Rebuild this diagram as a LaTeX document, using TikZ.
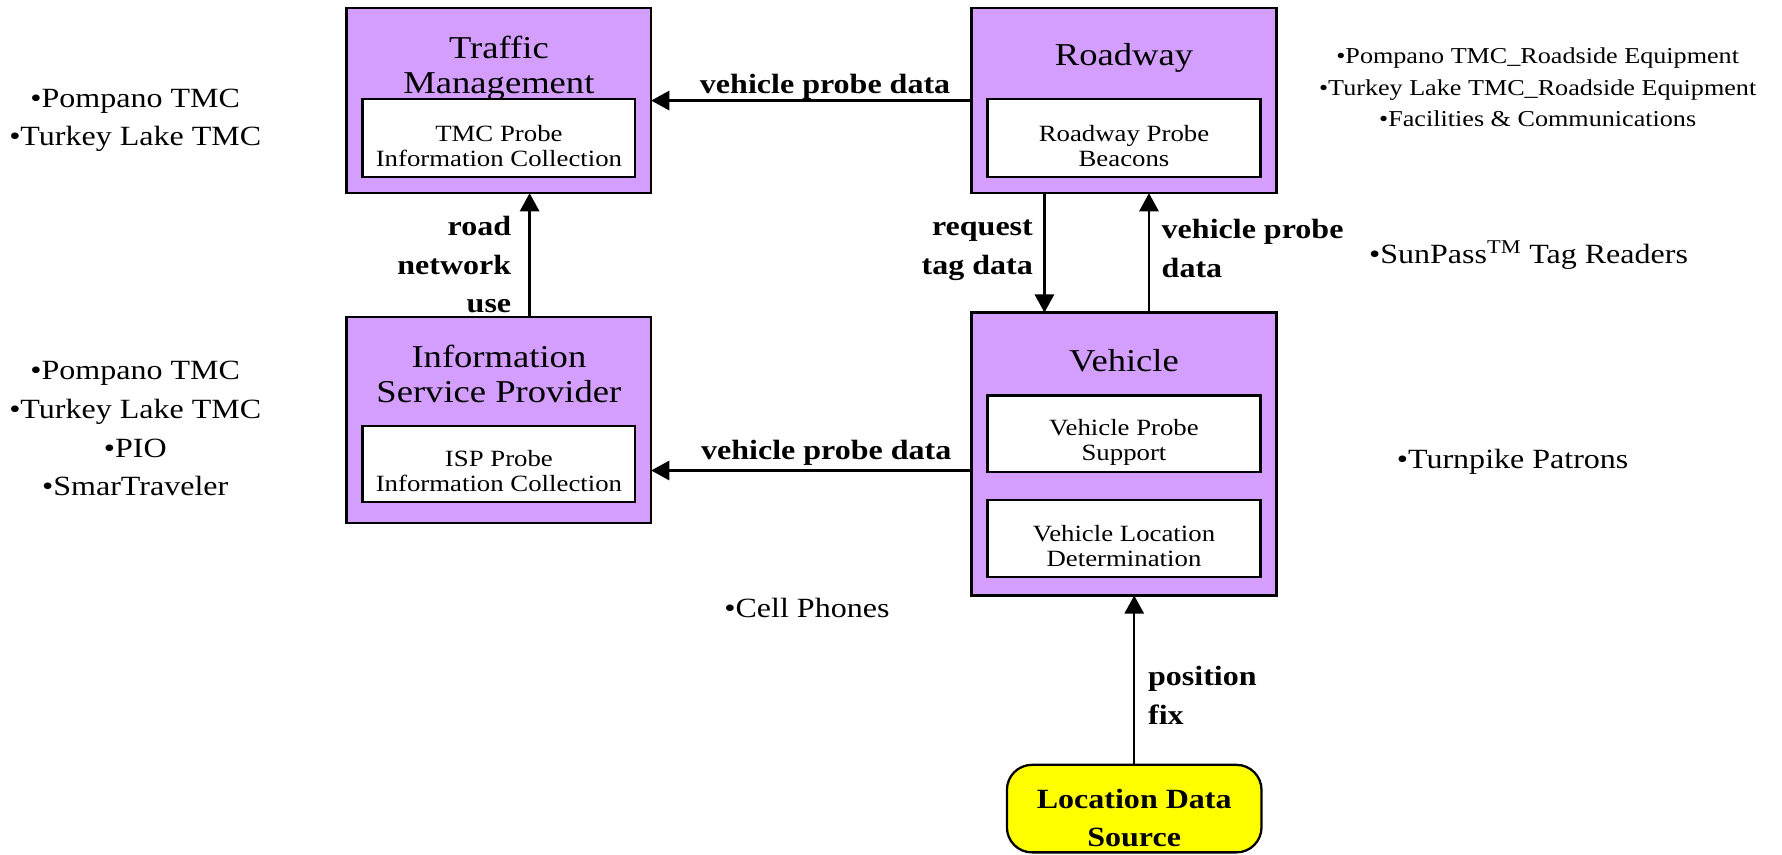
\documentclass[tikz,border=0pt]{standalone}
\usepackage{fontspec}
\setmainfont{Liberation Serif}[FakeStretch=1.15]
\usetikzlibrary{arrows.meta}
\definecolor{boxpurple}{RGB}{212,158,255}
\definecolor{lyellow}{RGB}{255,255,0}
\newcommand{\fsz}[2]{\fontsize{#1}{#2}\selectfont}
\begin{document}
\begin{tikzpicture}[x=1pt,y=-1pt,
  outer/.style={draw=black, line width=2.2pt, fill=boxpurple, inner sep=0pt, outer sep=0pt, minimum width=268pt},
  innerbox/.style={draw=black, line width=2pt, fill=white, inner sep=0pt, outer sep=0pt, minimum width=240pt},
  ttl/.style={font=\fsz{28}{31}, align=center, inner sep=0pt, anchor=north},
  itx/.style={font=\fsz{20.5}{22}, align=center, inner sep=0pt, anchor=north},
  lbl/.style={font=\bfseries\fsz{24.5}{34}, inner sep=0pt},
  note/.style={font=\fsz{24.5}{34}, align=center, inner sep=0pt, anchor=north},
  smallnote/.style={font=\fsz{20}{27.5}, align=center, inner sep=0pt, anchor=north},
  arr/.style={line width=2pt, -{Triangle[length=16pt,width=17pt]}}
]
\useasboundingbox (0,0) rectangle (1568,752);
\fill[white] (0,0) rectangle (1568,752);

% purple boxes
\node[outer, minimum height=163pt] (tm)  at (439,88.5) {};
\node[outer, minimum height=163pt] (rw)  at (989,88.5) {};
\node[outer, minimum height=181pt] (isp) at (439,369.5) {};
\node[outer, minimum height=249pt] (veh) at (989,399.5) {};

% inner boxes
\node[innerbox, minimum height=69pt] (tmi)  at (439,121.5) {};
\node[innerbox, minimum height=69pt] (rwi)  at (989,121.5) {};
\node[innerbox, minimum height=67pt] (ispi) at (439,408.5) {};
\node[innerbox, minimum height=67pt] (vehi1) at (989,381.5) {};
\node[innerbox, minimum height=68pt] (vehi2) at (989,474) {};

% location data source
\node[draw=black, line width=2pt, fill=lyellow, rounded corners=22pt,
      minimum width=224pt, minimum height=77pt, inner sep=0pt, outer sep=0pt] (lds) at (998,711.5) {};

% titles
\node[ttl] (tmt)  at (439,29.3)  {\strut Traffic\\\strut Management};
\node[ttl] (rwt)  at (989,35.3)  {\strut Roadway};
\node[ttl] (ispt) at (439,301.3) {\strut Information\\\strut Service Provider};
\node[ttl] (veht) at (989,305.3) {\strut Vehicle};

% inner texts
\node[itx] (tmit)   at (439,108.6) {\strut TMC Probe\\\strut Information Collection};
\node[itx] (rwit)   at (989,108.6) {\strut Roadway Probe\\\strut Beacons};
\node[itx] (ispit)  at (439,394.6) {\strut ISP Probe\\\strut Information Collection};
\node[itx] (vehit1) at (989,367.6) {\strut Vehicle Probe\\\strut Support};
\node[itx] (vehit2) at (989,460.6) {\strut Vehicle Location\\\strut Determination};

\node[lbl, align=center, anchor=north] (ldst) at (998,687.2) {\strut Location Data\\\strut Source};

% connectors
\coordinate (lowy) at (0,414);
\coordinate (xa) at (466,0);
\coordinate (xb) at (919,0);
\coordinate (xc) at (1011,0);
\draw[arr] (rw.west) -- (tm.east);
\draw[arr] (veh.west |- lowy) -- (isp.east |- lowy);
\draw[arr] (isp.north -| xa) -- (tm.south -| xa);
\draw[arr] (rw.south -| xb) -- (veh.north -| xb);
\draw[arr] (veh.north -| xc) -- (rw.south -| xc);
\draw[arr] (lds.north) -- (lds.north |- veh.south);

% connector labels
\node[lbl, anchor=north] (l1) at (726,58.2) {\strut vehicle probe data};
\node[lbl, anchor=north] (l2) at (727,380.2) {\strut vehicle probe data};
\node[lbl, align=right, anchor=north east] (l3) at (450,183.2) {\strut road\\\strut network\\\strut use};
\node[lbl, align=right, anchor=north east] (l4) at (909,183.2) {\strut request\\\strut tag data};
\node[lbl, align=left, anchor=north west] (l5) at (1022,186.2) {\strut vehicle probe\\\strut data};
\node[lbl, align=left, anchor=north west] (l6) at (1010,579.2) {\strut position\\\strut fix};

% notes
\node[note] (n1) at (119,70.2) {\strut •Pompano TMC\\\strut •Turkey Lake TMC};
\node[note] (n2) at (119,310.2) {\strut •Pompano TMC\\\strut •Turkey Lake TMC\\\strut •PIO\\\strut •SmarTraveler};
\node[smallnote] (n3) at (1353,36.75) {\strut •Pompano TMC\_Roadside Equipment\\\strut •Turkey Lake TMC\_Roadside Equipment\\\strut •Facilities \& Communications};
\node[note] (n4) at (1345,208.2) {\strut •SunPass\textsuperscript{TM} Tag Readers};
\node[note] (n5) at (1331,388.2) {\strut •Turnpike Patrons};
\node[note] (n6) at (710,519.2) {\strut •Cell Phones};
\end{tikzpicture}
\end{document}
